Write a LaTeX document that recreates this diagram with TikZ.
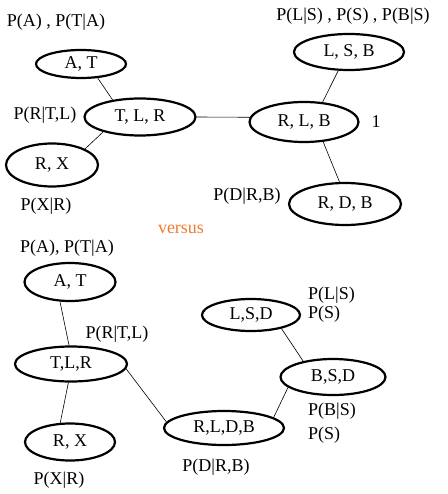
\documentclass[tikz,border=0pt]{standalone}
\usepackage{fontspec}
\setmainfont{Liberation Serif}
\usepackage{xcolor}
\definecolor{versusorange}{RGB}{237,125,49}
\usetikzlibrary{shapes.geometric}

\begin{document}
\begin{tikzpicture}[x=1pt, y=-1pt, font=\fontsize{18}{19}\selectfont,
        clique/.style 2 args={draw, ellipse, line width=2.2pt, inner sep=0pt,
                              minimum width=#1, minimum height=#2},
        link/.style={draw, line width=0.6pt}]
        \useasboundingbox (0,0) rectangle (447,494);

        % upper tree
        \node[clique={90}{28}] (at1) at (81,64) {A, T};
        \node[clique={111}{37}] (tlr1) at (140,117) {T, L, R};
        \node[clique={92}{43}] (rx1) at (52,165) {R, X};
        \node[clique={110}{36}] (lsb) at (349,52) {L, S, B};
        \node[clique={109}{40}] (rlb) at (304,122) {R, L, B};
        \node[clique={112}{42}] (rdb) at (345,204) {R, D, B};

        \node (pat1) at (56,22) {P(A) , P(T|A)};
        \node (prtl1) at (45,115) {P(R|T,L)};
        \node (pxr1) at (46,206) {P(X|R)};
        \node (plsb) at (353,16) {P(L|S) , P(S) , P(B|S)};
        \node (one) at (376,122) {1};
        \node (pdrb1) at (247,196) {P(D|R,B)};

        \path[link] (at1.-40) -- (tlr1.148)
                    (tlr1.202) -- (rx1.26)
                    (tlr1.east) -- (rlb.175)
                    (rlb.47) -- (lsb.240)
                    (rlb.-46) -- (rdb.104);

        \node[text=versusorange] (versus) at (181,229) {versus};

        % lower tree
        \node[clique={91}{38}] (at2) at (70,282) {A, T};
        \node[clique={112}{35}] (tlr2) at (71,364) {T,L,R};
        \node[clique={90}{37}] (rx2) at (70,442) {R, X};
        \node[clique={120}{34}] (rldb) at (224,428) {R,L,D,B};
        \node[clique={98}{32}] (lsd) at (251,315) {L,S,D};
        \node[clique={105}{36}] (bsd) at (333,377) {B,S,D};

        \node (pat2) at (67,248) {P(A), P(T|A)};
        \node (prtl2) at (117,334) {P(R|T,L)};
        \node (pxr2) at (59,480) {P(X|R)};
        \node (pdrb2) at (216,467) {P(D|R,B)};
        \node[anchor=west, align=left, inner sep=0pt] (plsd) at (308,305) {P(L|S)\\P(S)};
        \node[anchor=west, align=left, inner sep=0pt] (pbsd) at (308,423) {P(B|S)\\[5pt]P(S)};

        \path[link] (at2.243) -- (tlr2.96)
                    (tlr2.262) -- (rx2.117)
                    (tlr2.-5) -- (rldb.174)
                    (rldb.12) -- (bsd.-167)
                    (bsd.152) -- (lsd.-24);
    \end{tikzpicture}
\end{document}
